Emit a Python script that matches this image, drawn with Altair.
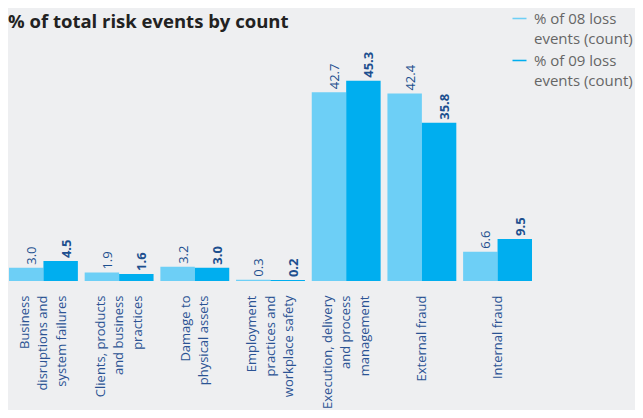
import altair as alt
import pandas as pd

categories = [
    "Business\ndisruptions and\nsystem failures",
    "Clients, products\nand business\npractices",
    "Damage to\nphysical assets",
    "Employment\npractices and\nworkplace safety",
    "Execution, delivery\nand process\nmanagement",
    "External fraud",
    "Internal fraud",
]
series_names = ["% of 08 loss|events (count)", "% of 09 loss|events (count)"]
values_08 = [3.0, 1.9, 3.2, 0.3, 42.7, 42.4, 6.6]
values_09 = [4.5, 1.6, 3.0, 0.2, 45.3, 35.8, 9.5]
colors = ["#6dcff6", "#00aeef"]

rows = []
for c, v in zip(categories, values_08):
    rows.append({"category": c, "series": series_names[0], "value": v})
for c, v in zip(categories, values_09):
    rows.append({"category": c, "series": series_names[1], "value": v})
df = pd.DataFrame(rows)

FONT = "Open Sans"
LH = 18.5

x_enc = alt.X("category:N", sort=categories,
              scale=alt.Scale(paddingInner=0.09, paddingOuter=0),
              axis=alt.Axis(title=None, domain=False, ticks=False,
                            labelAngle=270, labelAlign="right", labelBaseline="middle",
                            labelPadding=14, labelFontSize=13, labelColor="#2b5394",
                            labelFont=FONT, labelLineHeight=LH, labelLimit=0,
                            labelOffset={"condition": [
                                {"test": "length(split(datum.value, '\\n')) == 3", "value": -LH},
                                {"test": "length(split(datum.value, '\\n')) == 2", "value": -LH / 2},
                            ], "value": 0},
                            labelExpr="split(datum.label, '\\n')"))
xo_enc = alt.XOffset("series:N", sort=series_names,
                     scale=alt.Scale(paddingInner=0, paddingOuter=0))
y_enc = alt.Y("value:Q", scale=alt.Scale(domain=[0, 50], nice=False),
              axis=None)

base = alt.Chart(df)

bars = base.mark_bar().encode(
    x=x_enc, xOffset=xo_enc, y=y_enc,
    color=alt.Color("series:N", sort=series_names,
                    scale=alt.Scale(domain=series_names, range=colors),
                    legend=alt.Legend(title=None, orient="none", legendX=503, legendY=-49,
                                      symbolType="M-1,-0.11L1,-0.11L1,0.11L-1,0.11Z",
                                      symbolSize=196, symbolStrokeWidth=0,
                                      symbolOpacity=1, labelFont=FONT,
                                      labelFontSize=15, labelColor="#666666",
                                      labelLimit=0, labelOffset=7, rowPadding=6,
                                      labelExpr="split(datum.label, '|')")),
)

labels = base.mark_text(
    align="left", baseline="middle", dx=3, dy=6,
    font=FONT, fontSize=13, color="#1d4f8f",
    fontWeight=alt.expr("indexof(datum.series, '09') >= 0 ? 'bold' : 'normal'"),
).encode(
    x=x_enc, xOffset=xo_enc, y=y_enc,
    angle=alt.value(270),
    text=alt.Text("value:Q", format=".1f"),
)

chart = alt.layer(bars, labels).properties(
    width=523, height=221,
    title=alt.TitleParams("% of total risk events by count", anchor="start",
                          font=FONT, fontSize=18.5, fontWeight="bold",
                          color="#222222", offset=0, baseline="alphabetic",
                          dx=-1, dy=35, frame="group"),
    autosize=alt.AutoSizeParams(type="none"),
    padding={"left": 1, "top": 52, "right": 103, "bottom": 129},
).configure(background="#eeeff1",
            style={"guide-label": {"lineHeight": 20}}).configure_view(stroke=None)

chart.save("out.html", embed_options={"renderer": "svg", "actions": False})
